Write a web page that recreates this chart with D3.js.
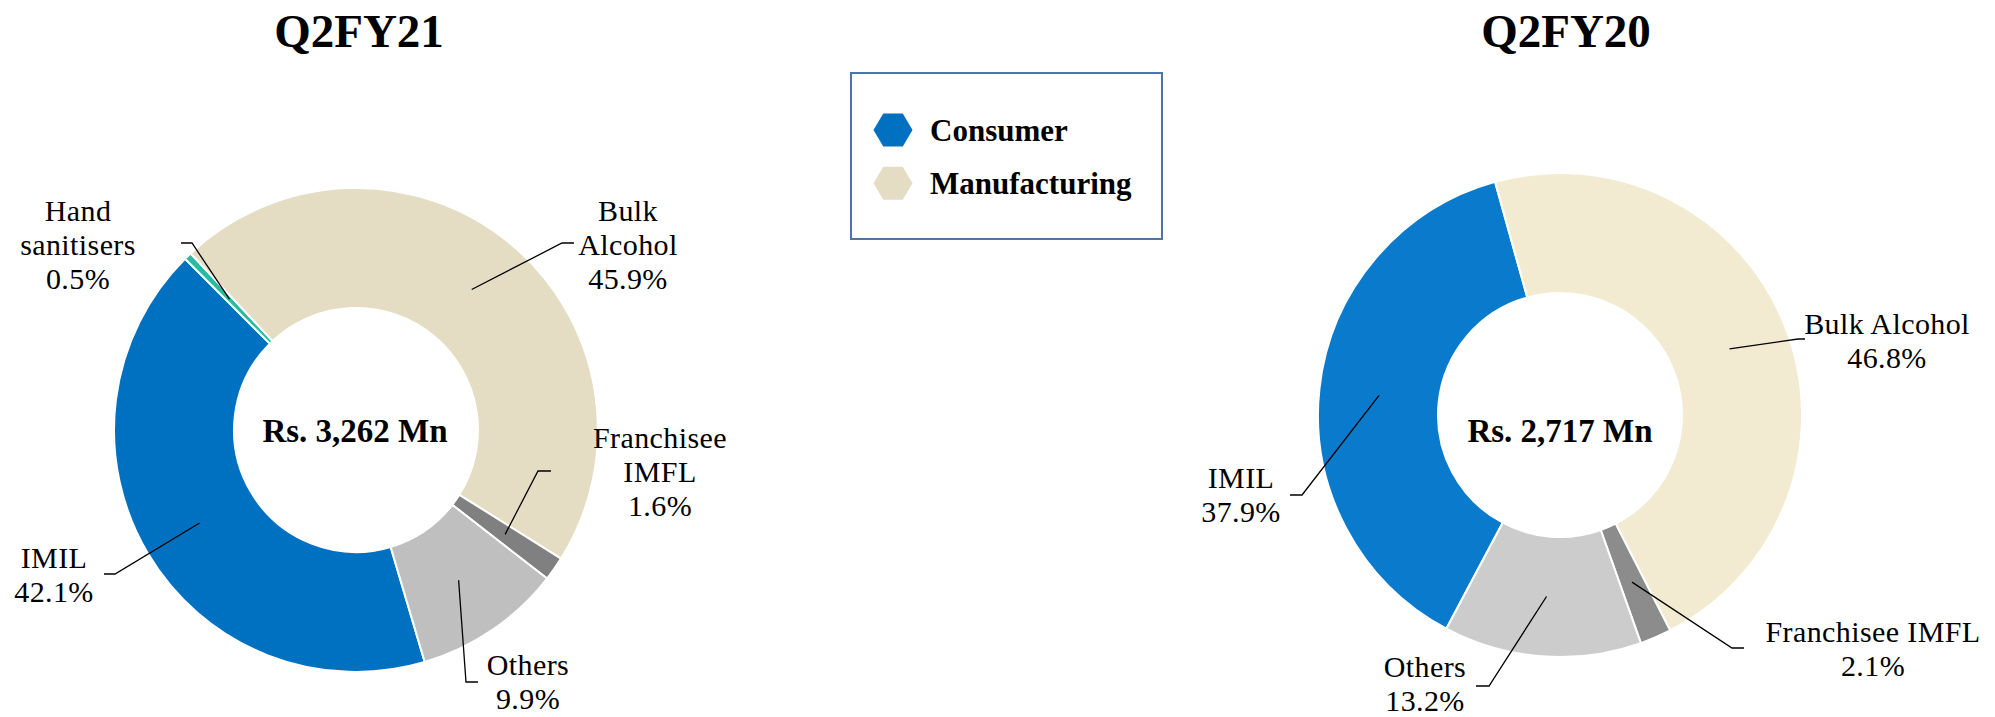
<!DOCTYPE html>
<html>
<head>
<meta charset="utf-8">
<script src="https://cdnjs.cloudflare.com/ajax/libs/d3/7.8.5/d3.min.js"></script>
<style>
  body { margin: 0; background: #fff; }
  text { font-family: "Liberation Serif", "Times New Roman", serif; }
</style>
</head>
<body>
<div id="chart"></div>
<script>
var titles = ["Q2FY21", "Q2FY20"];
var totals = ["Rs. 3,262 Mn", "Rs. 2,717 Mn"];

var categories21 = ["IMIL", "Hand sanitisers", "Bulk Alcohol", "Franchisee IMFL", "Others"];
var values21 = [42.1, 0.5, 45.9, 1.6, 9.9];

var categories20 = ["IMIL", "Bulk Alcohol", "Franchisee IMFL", "Others"];
var values20 = [37.9, 46.8, 2.1, 13.2];

var legendItems = ["Consumer", "Manufacturing"];

// styling / layout
var svgWidth = 1995;
var svgHeight = 717;
var outerR = 242;
var innerR = 122;

var colors21 = {
  "IMIL": "#0070C0",
  "Hand sanitisers": "#2DB8A2",
  "Bulk Alcohol": "#E4DDC4",
  "Franchisee IMFL": "#808080",
  "Others": "#BFBFBF"
};
var colors20 = {
  "IMIL": "#097ACC",
  "Bulk Alcohol": "#F2EBD1",
  "Franchisee IMFL": "#8C8C8C",
  "Others": "#CCCCCC"
};
var legendColors = ["#0070C0", "#E4DDC4"];

// label text lines, elbow / end of leader line and text anchor (absolute px)
var labels21 = {
  "IMIL": { lines: ["IMIL"], elbow: [115, 574], end: [104, 574], x: 54, y: 568 },
  "Hand sanitisers": { lines: ["Hand", "sanitisers"], elbow: [192, 243], end: [181, 243], x: 78, y: 221 },
  "Bulk Alcohol": { lines: ["Bulk", "Alcohol"], elbow: [562, 243], end: [574, 243], x: 628, y: 221 },
  "Franchisee IMFL": { lines: ["Franchisee", "IMFL"], elbow: [538, 471], end: [551, 471], x: 660, y: 448 },
  "Others": { lines: ["Others"], elbow: [466, 682], end: [478, 682], x: 528, y: 675 }
};
var labels20 = {
  "IMIL": { lines: ["IMIL"], elbow: [1302, 495], end: [1290, 495], x: 1241, y: 488 },
  "Bulk Alcohol": { lines: ["Bulk Alcohol"], elbow: [1798, 339], end: [1805, 339], x: 1887, y: 334 },
  "Franchisee IMFL": { lines: ["Franchisee IMFL"], elbow: [1732, 648], end: [1744, 648], x: 1873, y: 642 },
  "Others": { lines: ["Others"], elbow: [1489, 686], end: [1476, 686], x: 1425, y: 677 }
};

var charts = [
  { title: titles[0], total: totals[0], cats: categories21, vals: values21, colors: colors21, labels: labels21,
    cx: 356, cy: 430, start: 163.5, titleX: 359, totalX: 355 },
  { title: titles[1], total: totals[1], cats: categories20, vals: values20, colors: colors20, labels: labels20,
    cx: 1560, cy: 415, start: 208, titleX: 1566, totalX: 1560 }
];

var pct = d3.format(".1f");
var lineH = 34;

var svg = d3.select("#chart")
  .append("svg")
  .attr("width", svgWidth)
  .attr("height", svgHeight);

var arc = d3.arc()
  .innerRadius(innerR)
  .outerRadius(outerR);

charts.forEach(function(c) {
  var rows = c.cats.map(function(name, i) { return { name: name, value: c.vals[i] }; });
  var a0 = c.start * Math.PI / 180;
  var pie = d3.pie()
    .sort(null)
    .value(function(d) { return d.value; })
    .startAngle(a0)
    .endAngle(a0 + 2 * Math.PI);
  var arcs = pie(rows);

  // title
  svg.append("text")
    .attr("x", c.titleX)
    .attr("y", 47)
    .attr("text-anchor", "middle")
    .style("font-size", "47px")
    .style("font-weight", "bold")
    .text(c.title);

  var g = svg.append("g")
    .attr("transform", `translate(${c.cx}, ${c.cy})`);

  g.selectAll("path")
    .data(arcs)
    .enter()
    .append("path")
    .attr("d", arc)
    .attr("fill", function(d) { return c.colors[d.data.name]; })
    .attr("stroke", "#fff")
    .attr("stroke-width", 2);

  // leader lines + labels
  arcs.forEach(function(d) {
    var lab = c.labels[d.data.name];
    var p = arc.centroid(d);
    var pts = [[p[0] + c.cx, p[1] + c.cy], lab.elbow, lab.end];
    svg.append("path")
      .attr("d", d3.line()(pts))
      .attr("fill", "none")
      .attr("stroke", "#000")
      .attr("stroke-width", 1.3);

    var t = svg.append("text")
      .attr("text-anchor", "middle")
      .style("font-size", "30px")
      .style("letter-spacing", "0.4px")
      .style("fill", "#000");
    var lines = lab.lines.concat([pct(d.data.value) + "%"]);
    lines.forEach(function(s, k) {
      t.append("tspan")
        .attr("x", lab.x)
        .attr("y", lab.y + k * lineH)
        .text(s);
    });
  });

  // total in the hole
  svg.append("text")
    .attr("x", c.totalX)
    .attr("y", 442)
    .attr("text-anchor", "middle")
    .style("font-size", "33px")
    .style("font-weight", "bold")
    .text(c.total);
});

// legend
var legend = svg.append("g");
legend.append("rect")
  .attr("x", 851)
  .attr("y", 73)
  .attr("width", 311)
  .attr("height", 166)
  .attr("fill", "#fff")
  .attr("stroke", "#4A76A8")
  .attr("stroke-width", 2);

var hex = function(cx, cy) {
  var w = 19.5, h = 16.5;
  return d3.line()([[cx - w, cy], [cx - w / 2, cy - h], [cx + w / 2, cy - h], [cx + w, cy],
    [cx + w / 2, cy + h], [cx - w / 2, cy + h]]) + "Z";
};

legendItems.forEach(function(name, i) {
  var cy = 130 + i * 53.3;
  legend.append("path")
    .attr("d", hex(893, cy))
    .attr("fill", legendColors[i]);
  legend.append("text")
    .attr("x", 930)
    .attr("y", cy + 10.5)
    .style("font-size", "31px")
    .style("font-weight", "bold")
    .text(name);
});
</script>
</body>
</html>
